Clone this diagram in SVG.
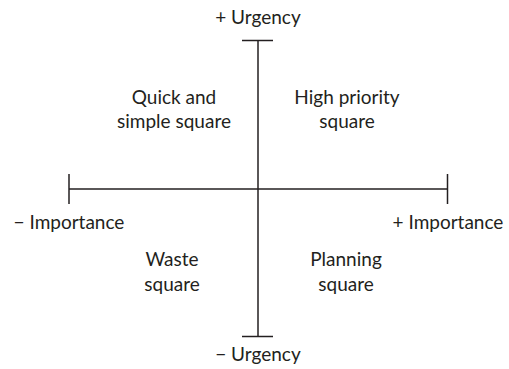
<svg xmlns="http://www.w3.org/2000/svg" width="509" height="369" viewBox="0 0 509 369">
<style>
.ax{stroke:#231f20;stroke-width:1.5;fill:none}
text{font-family:Lato,"Open Sans",sans-serif;font-size:19px;fill:#231f20;text-anchor:middle}
</style>
<rect width="509" height="369" fill="#fff"/>
<g id="connectors">
<line class="ax" x1="258" y1="40.5" x2="258" y2="336.5"/>
<line class="ax" x1="242" y1="40.5" x2="273" y2="40.5"/>
<line class="ax" x1="242" y1="336.5" x2="273" y2="336.5"/>
<line class="ax" x1="69" y1="189" x2="447.5" y2="189"/>
<line class="ax" x1="69" y1="174" x2="69" y2="204"/>
<line class="ax" x1="447.5" y1="174" x2="447.5" y2="204"/>
</g>
<g id="urgency-plus"><text x="258" y="24">+ Urgency</text></g>
<g id="urgency-minus"><text x="258" y="361">− Urgency</text></g>
<g id="importance-minus"><text x="69" y="229">− Importance</text></g>
<g id="importance-plus"><text x="448" y="229">+ Importance</text></g>
<g id="quick"><text x="174" y="104">Quick and</text><text x="174" y="128">simple square</text></g>
<g id="high"><text x="347" y="104">High priority</text><text x="347" y="128">square</text></g>
<g id="waste"><text x="172" y="266">Waste</text><text x="172" y="291">square</text></g>
<g id="planning"><text x="346" y="266">Planning</text><text x="346" y="291">square</text></g>
</svg>
